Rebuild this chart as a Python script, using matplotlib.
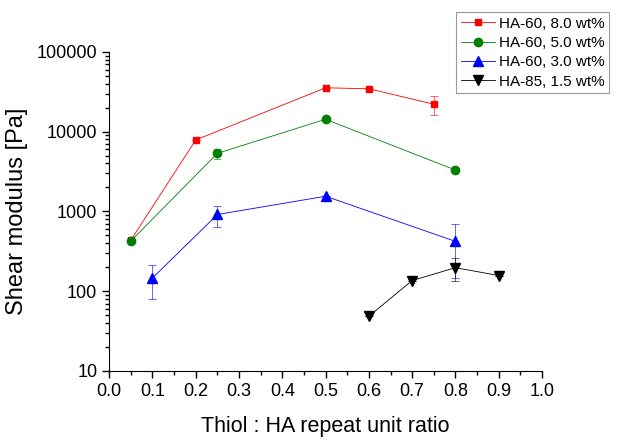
import matplotlib.pyplot as plt
from matplotlib.lines import Line2D
import numpy as np

plt.rcParams['font.family'] = ['Liberation Sans', 'DejaVu Sans']

# HA-60, 8.0 wt%
x_a = [0.05, 0.2, 0.5, 0.6, 0.75]
y_a = [435, 7870, 35500, 34500, 22100]
e_a = [0, 0, 0, 0, 6000]

# HA-60, 5.0 wt%
x_b = [0.05, 0.25, 0.5, 0.8]
y_b = [425, 5350, 14300, 3300]
e_b = [0, 800, 0, 0]

# HA-60, 3.0 wt%
x_c = [0.1, 0.25, 0.5, 0.8]
y_c = [146, 915, 1550, 421]
e_c = [67, 270, 0, 276]

# HA-85, 1.5 wt%
x_d = [0.6, 0.7, 0.8, 0.9]
y_d = [48.5, 136, 197, 157]
e_d = [0, 0, 61, 0]

labels = ['HA-60, 8.0 wt%', 'HA-60, 5.0 wt%', 'HA-60, 3.0 wt%', 'HA-85, 1.5 wt%']

fig = plt.figure(figsize=(6.31, 4.40), dpi=100)
ax = fig.add_axes([0.173, 0.157, 0.686, 0.725])

series = [
    (x_a, y_a, e_a, 'red', 's', 5),
    (x_b, y_b, e_b, 'green', 'o', 6),
    (x_c, y_c, e_c, 'blue', '^', 6.5),
    (x_d, y_d, e_d, 'black', 'v', 6.5),
]
handles = []
for (xs, ys, es, col, mk, ms), lab in zip(series, labels):
    # error bars drawn a bit lighter, like the original
    ax.errorbar(xs, ys, yerr=es, fmt='none', ecolor=col, alpha=0.6,
                elinewidth=0.7, capsize=3, capthick=0.7)
    ax.plot(xs, ys, color=col, lw=0.6, marker=mk, ms=ms)
    handles.append(Line2D([], [], color=col, lw=0.6, marker=mk, ms=ms, label=lab))

ax.set_yscale('log')
ax.set_xlim(0, 1.0)
ax.set_ylim(10, 100000)
ax.set_xticks(np.arange(0, 1.01, 0.1))
ax.set_xticks(np.arange(0.05, 1.0, 0.1), minor=True)
ax.set_xticklabels([f'{v:.1f}' for v in np.arange(0, 1.01, 0.1)])
ax.set_yticks([10, 100, 1000, 10000, 100000])
ax.set_yticklabels(['10', '100', '1000', '10000', '100000'])
ax.tick_params(which='both', direction='out', labelsize=13, width=1)
ax.tick_params(which='major', length=5)
ax.tick_params(which='minor', length=3)
ax.spines['top'].set_visible(False)
ax.spines['right'].set_visible(False)

ax.set_xlabel('Thiol : HA repeat unit ratio', fontsize=15.5, labelpad=12)
ax.set_ylabel('Shear modulus [Pa]', fontsize=17, labelpad=6)

leg = fig.legend(handles=handles, loc='upper right', bbox_to_anchor=(0.978, 0.99),
                 fontsize=11, frameon=True, fancybox=False, edgecolor='gray',
                 handlelength=2.2, borderpad=0.3, labelspacing=0.35,
                 handletextpad=0.3)
leg.get_frame().set_linewidth(0.8)

fig.savefig('out.png', dpi=100)
